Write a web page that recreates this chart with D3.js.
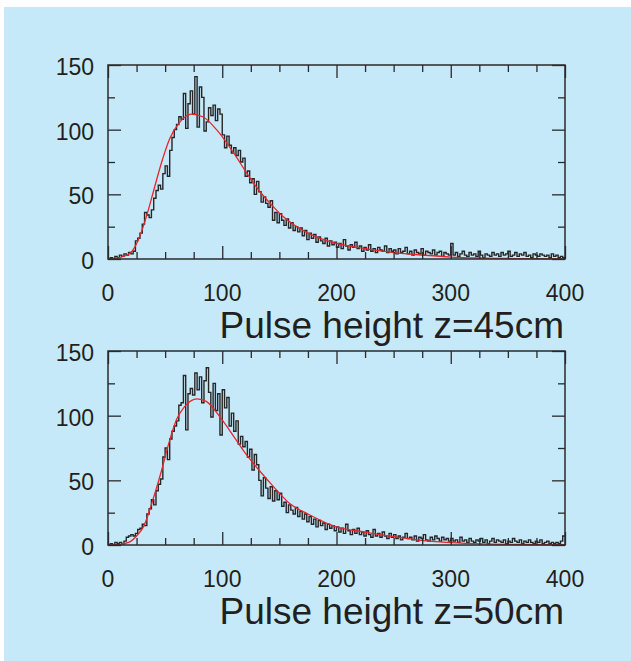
<!DOCTYPE html>
<html>
<head>
<meta charset="utf-8">
<script src="https://cdn.jsdelivr.net/npm/d3@7/dist/d3.min.js"></script>
<style>
html,body{margin:0;padding:0;background:#fff;}
svg{display:block;}
text{font-family:"Liberation Sans",Arial,Helvetica,sans-serif;fill:#231f20;}
</style>
</head>
<body>
<svg id="chart" width="631" height="661"></svg>
<script>
// ---- data ----
const binWidth = 2;
const xTicks = [0, 100, 200, 300, 400];
const yTicks = [0, 50, 100, 150];
const titles = ["Pulse height z=45cm", "Pulse height z=50cm"];

const counts45 = [
0,1,0,2,1,3,2,4,3,5,
4,6,14,16,20,27,36,34,32,38,
47,53,57,54,66,72,64,84,94,100,
104,110,108,128,101,120,130,112,141,102,
133,125,99,106,117,111,119,107,116,112,
96,86,95,88,82,86,80,84,75,78,
64,68,59,62,50,60,52,44,48,43,
40,45,30,36,28,35,30,26,31,24,
28,22,25,21,24,18,22,15,20,16,
19,13,17,14,12,16,10,14,11,13,
9,12,8,15,10,7,11,9,13,8,
10,6,9,7,11,6,8,5,9,7,
6,10,5,8,6,7,4,8,5,6,
9,4,6,3,7,5,4,8,3,6,
5,4,7,3,5,6,2,5,4,3,
12,3,5,2,4,6,3,2,5,3,
4,2,6,3,1,4,3,2,5,3,
4,2,5,3,4,6,2,3,5,2,
4,3,5,2,3,1,4,3,2,4,
3,2,3,1,4,2,3,1,2,1
];

const counts50 = [
0,1,0,2,1,2,1,3,6,7,
8,7,9,12,13,16,15,24,28,35,
31,42,47,51,68,75,66,82,88,92,
96,108,110,131,89,117,121,116,133,120,
130,110,127,137,118,99,125,104,117,85,
120,106,114,92,102,88,96,78,84,76,
80,68,74,58,70,62,50,38,52,44,
36,45,34,42,35,40,30,33,25,31,
27,24,29,22,26,20,24,18,22,16,
20,14,19,15,17,12,16,13,15,11,
14,10,13,9,16,11,8,12,9,13,
8,10,7,11,8,6,12,7,9,6,
10,7,5,9,6,8,5,7,4,6,
9,5,6,4,7,3,6,5,8,4,
3,6,4,7,5,3,6,4,5,3,
5,3,4,2,6,3,4,2,5,3,
2,4,3,5,2,4,1,3,5,2,
4,3,2,4,1,3,2,5,3,2,
4,1,3,2,4,2,1,3,2,4,
1,2,3,1,2,1,2,1,3,7
];

const fitX45 = [0,10,20,28,35,40,47,54,63,73,83,95,110,121,133,142,153,175,200,225,250,276,300,328,360,400];
const fitY45 = [0,1,5,18,37,53,75,93,106,112,110,100,82,67,52,43,33,20,12,8,5,3,1.5,0.7,0.3,0.1];
const fitX50 = [0,10,18,25,31,40,47,53,60,67,78,86,98,110,121,133,146,159,175,200,225,250,276,300,328,360,400];
const fitY50 = [0,0.5,2,7,14,37,58,78,97,107,113,111,99,84,70,57,44,32,24,14,10,6.4,3.4,1.8,0.8,0.4,0.2];

// ---- drawing ----
const svg = d3.select("#chart");
svg.append("rect").attr("x",4).attr("y",7).attr("width",627).attr("height",654).attr("fill","#c6e9f9");

const x = d3.scaleLinear().domain([0,400]).range([108,565]);
const panels = [
  {counts: counts45, fx: fitX45, fy: fitY45, top: 65, bottom: 259, title: titles[0]},
  {counts: counts50, fx: fitX50, fy: fitY50, top: 351, bottom: 545, title: titles[1]}
];

const ink = "#2a2a2a";
panels.forEach(p => {
  const y = d3.scaleLinear().domain([0,150]).range([p.bottom, p.top]);
  const g = svg.append("g");

  // histogram
  const pts = p.counts.map((c,i) => [i*binWidth, c]);
  pts.push([p.counts.length*binWidth, p.counts[p.counts.length-1]]);
  g.append("path")
    .attr("d", d3.line().curve(d3.curveStepAfter).x(d=>x(d[0])).y(d=>y(d[1]))(pts))
    .attr("fill","none").attr("stroke","#262626").attr("stroke-width",1.4);

  // fit
  const fpts = p.fx.map((v,i)=>[v,p.fy[i]]);
  g.append("path")
    .attr("d", d3.line().curve(d3.curveMonotoneX).x(d=>x(d[0])).y(d=>y(d[1]))(fpts))
    .attr("fill","none").attr("stroke","#e8262c").attr("stroke-width",1.3);

  // ticks
  const mk = (axis, scale, size, vals, tx, ty) => {
    const a = axis(scale).tickValues(vals).tickSize(size).tickFormat("");
    const ag = g.append("g").attr("transform",`translate(${tx},${ty})`).call(a);
    ag.select(".domain").remove();
    ag.selectAll("line").attr("stroke",ink).attr("stroke-width",1.3);
  };
  const xMajor = d3.range(0,401,100), xMinor = d3.range(0,401,25).filter(v=>v%100);
  const yMajor = d3.range(0,151,50), yMinor = d3.range(0,151,25).filter(v=>v%50);
  mk(d3.axisBottom, x, -13, xMajor, 0, p.bottom);
  mk(d3.axisBottom, x, -7, xMinor, 0, p.bottom);
  mk(d3.axisTop, x, -13, xMajor, 0, p.top);
  mk(d3.axisTop, x, -7, xMinor, 0, p.top);
  mk(d3.axisLeft, y, -13, yMajor, 108, 0);
  mk(d3.axisLeft, y, -7, yMinor, 108, 0);
  mk(d3.axisRight, y, -13, yMajor, 565, 0);
  mk(d3.axisRight, y, -7, yMinor, 565, 0);

  // frame
  g.append("rect").attr("x",108).attr("y",p.top).attr("width",457).attr("height",p.bottom-p.top)
    .attr("fill","none").attr("stroke",ink).attr("stroke-width",1.5);

  // labels
  g.selectAll(".xl").data(xTicks).join("text")
    .attr("x",d=>x(d)).attr("y",p.bottom+41.5).attr("text-anchor","middle")
    .attr("font-size",23).text(d=>d);
  g.selectAll(".yl").data(yTicks).join("text")
    .attr("x",94).attr("y",d=>y(d)+10).attr("text-anchor","end")
    .attr("font-size",23).text(d=>d);
  g.append("text").attr("x",564).attr("y",p.bottom+79).attr("text-anchor","end")
    .attr("font-size",37).text(p.title);
});
</script>
</body>
</html>
